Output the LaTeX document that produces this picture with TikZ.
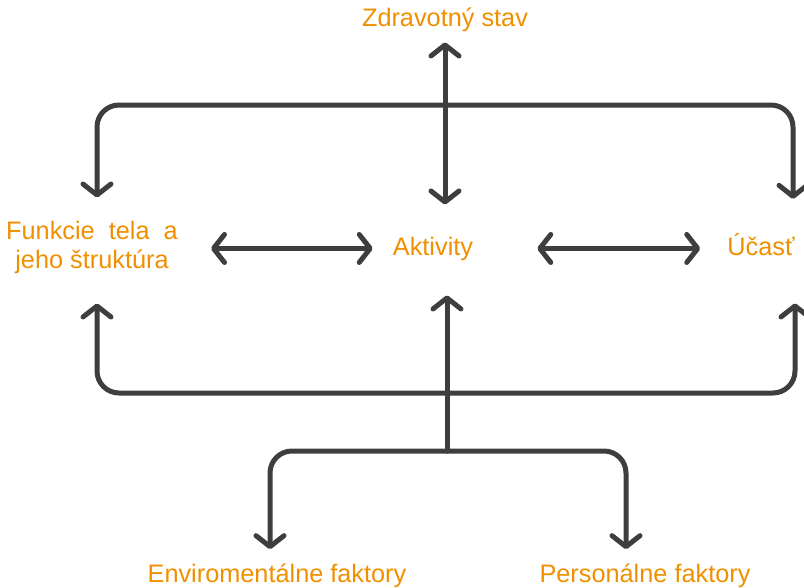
\documentclass[tikz,border=0pt]{standalone}
\usepackage{fontspec}
\setmainfont{Liberation Sans}
\usetikzlibrary{arrows.meta}
\definecolor{labelorange}{RGB}{240,143,0}
\definecolor{linkgray}{RGB}{62,62,62}
\tikzset{
    >={Straight Barb[round, length=11pt, width=28pt]}, % open chevron heads
    label/.style={text=labelorange, inner sep=0pt, font=\fontsize{25.3}{29}\selectfont}, % orange texts
    link/.style={draw=linkgray, line width=5pt, line cap=round, line join=round}, % dark connectors
}
\begin{document}
\begin{tikzpicture}[
                        x=1pt, y=-1pt,
                        bracket/.style={link, rounded corners=22pt},
                    ]
                    \useasboundingbox (0,0) rectangle (804,587);
                    \node[label, anchor=base] (zdrav) at (445,26) {Zdravotný stav};
                    \node[label, align=center] (funkcie) at (92,247) {Funkcie\ \ tela\ \ a\\jeho štruktúra};
                    \node[label, anchor=base] (aktivity) at (433,255) {Aktivity};
                    \node[label, anchor=base] (ucast) at (761,255) {Účasť};
                    \node[label, anchor=base] (env) at (277,582) {Enviromentálne faktory};
                    \node[label, anchor=base] (pers) at (645,582) {Personálne faktory};
                    \coordinate (upbar) at (447,105);
                    \coordinate (lowbar) at (447,393);
                    \coordinate (hub) at (447,451);
                    \draw[link, <->, shorten <=20pt, shorten >=33pt] (aktivity.west) -- (aktivity.west -| funkcie.east);
                    \draw[link, <->, shorten <=64pt, shorten >=27pt] (aktivity.east) -- (aktivity.east -| ucast.west);
                    \draw[link, <->, shorten <=11pt, shorten >=32pt] (zdrav.south) -- (aktivity.north -| zdrav.south);
                    \draw[bracket, <->, shorten <=23pt, shorten >=34pt] ([xshift=5pt]funkcie.north) |- (upbar) -| ([xshift=32pt]ucast.north);
                    \draw[bracket, <->, shorten <=30pt, shorten >=48pt] ([xshift=5pt]funkcie.south) |- (lowbar) -| ([xshift=34pt]ucast.south);
                    \draw[link, ->, shorten >=35pt] (hub) -- (hub |- aktivity.south);
                    \draw[bracket, ->, shorten >=14pt] (hub) -| ([xshift=-7pt]env.north);
                    \draw[bracket, ->, shorten >=14pt] (hub) -| ([xshift=-19pt]pers.north);
                \end{tikzpicture}
\end{document}
